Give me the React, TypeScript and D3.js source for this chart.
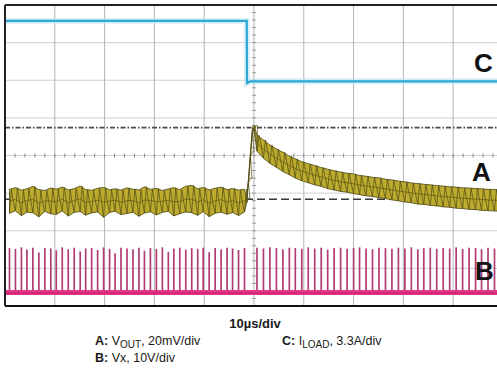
import React from "react";
import * as d3 from "d3";

const W = 497;
const H = 373;

// Screen geometry: 10 horizontal x 8 vertical divisions
const DIVS_X = 10;
const DIVS_Y = 8;
const TIME_PER_DIV = 10; // µs

// Switching events (µs); the period lengthens once the load is released
const switchTimes = [
  0.9, 2.1, 3.3, 4.4, 5.6, 6.8, 8.0, 9.2, 10.3, 11.5, 12.7, 13.9, 15.1, 16.2,
  17.4, 18.6, 19.8, 21.0, 22.1, 23.3, 24.5, 25.7, 26.9, 28.0, 29.2, 30.4, 31.6,
  32.8, 33.9, 35.1, 36.3, 37.5, 38.7, 39.8, 41.0, 42.2, 43.4, 44.6, 45.7, 46.9,
  48.1,
  50.6, 51.9, 53.2, 54.5, 55.8, 57.1, 58.3, 59.6, 60.9, 62.2, 63.5, 64.8, 66.1,
  67.4, 68.7, 70.0, 71.2, 72.5, 73.8, 75.1, 76.4, 77.7, 79.0, 80.3, 81.6, 82.9,
  84.1, 85.4, 86.7, 88.0, 89.3, 90.6, 91.9, 93.2, 94.5, 95.7, 97.0, 98.3, 99.6,
];

// Vx pulse tops (V) for each switching event
const vxPeaks = [
  11.8, 11.6, 12.0, 11.4, 11.9, 10.6, 11.8, 11.7, 11.2, 12.0, 11.5, 11.9, 10.9,
  11.7, 11.8, 11.3, 12.0, 11.6, 10.4, 11.9, 11.7, 11.5, 11.9, 11.1, 11.8, 11.6,
  12.0, 10.8, 11.7, 11.9, 11.4, 11.8, 11.6, 11.9, 10.7, 11.8, 11.5, 11.9, 11.7,
  11.3, 11.8,
  11.9, 11.7, 12.0, 11.8, 11.5, 11.9, 11.8, 11.6, 12.0, 11.7, 11.9, 11.4, 11.8,
  11.9, 11.6, 11.8, 12.0, 11.7, 11.5, 11.9, 11.8, 11.6, 11.9, 11.7, 12.0, 11.5,
  11.8, 11.9, 11.6, 11.8, 11.7, 12.0, 11.6, 11.9, 11.8, 11.5, 11.9, 11.7, 11.8,
];

// V_OUT ripple extremes per switching cycle (mV, relative to nominal)
const voutHigh = [
  5.2, 6.1, 4.8, 5.5, 6.8, 5.0, 4.6, 5.9, 5.3, 6.4, 4.9, 5.6, 7.0, 5.1, 4.7, 5.8,
  6.2, 5.0, 5.5, 4.8, 6.0, 5.3, 4.9, 6.6, 5.2, 5.7, 4.6, 5.4, 6.1, 5.0, 6.9, 7.3,
  5.5, 6.2, 4.9, 5.8, 6.4, 5.1, 5.6, 4.8, 5.3,
  34.0, 31.5, 28.8, 26.7, 24.9, 22.8, 21.4, 19.9, 18.8, 17.9, 16.8, 15.9, 15.1,
  14.4, 13.8, 13.4, 12.6, 12.2, 11.6, 11.3, 10.6, 10.2, 9.6, 9.2, 8.6, 8.3, 7.9,
  7.6, 7.2, 6.9, 6.6, 6.4, 6.0, 5.9, 5.6, 5.5, 5.2, 5.1, 5.0,
];
const voutLow = [
  -7.5, -6.2, -8.8, -6.9, -7.2, -9.4, -6.5, -7.8, -8.1, -6.3, -9.0, -7.0, -6.6,
  -8.5, -7.3, -6.8, -9.6, -7.1, -6.4, -8.2, -7.6, -6.9, -9.1, -7.4, -6.7, -8.4,
  -7.0, -6.5, -8.9, -7.7, -6.8, -7.2, -8.6, -6.6, -9.3, -7.5, -6.9, -8.0, -7.1,
  -8.7, -6.8,
  25.5, 21.8, 19.0, 16.9, 14.7, 13.0, 11.2, 9.8, 8.7, 7.6, 6.8, 5.6, 4.9, 4.1,
  3.7, 3.0, 2.4, 1.8, 1.4, 0.8, 0.3, -0.4, -0.9, -1.5, -1.9, -2.6, -2.8, -3.3,
  -3.6, -4.1, -4.3, -4.8, -5.0, -5.4, -5.6, -5.9, -6.1, -6.3, -6.4,
];

// V_OUT during the load-step edge (µs, mV)
const edgeTimes = [48.5, 48.9, 49.3, 49.7, 50.0];
const edgeValues = [-1, 10, 24, 37, 38];

// I_LOAD (µs, A)
const iloadTimes = [0, 48.55, 48.6, 48.8, 49.3, 100];
const iloadValues = [5.8, 5.8, 0.35, 0.4, 0.5, 0.5];

// Reference markers on channel A (mV)
const peakMarker = 38;
const nominalMarker = 0;

const channelTags = ["C", "A", "B"];

export default function App() {
  const left = 5;
  const top = 5;
  const bottom = 306;
  const divPx = (bottom - top) / DIVS_Y;
  const right = left + divPx * 1.3235 * DIVS_X; // ≈ 503, the screen runs past the crop

  const x = d3.scaleLinear().domain([0, DIVS_X * TIME_PER_DIV]).range([left, right]);
  // per-channel vertical scales: units/div and ground offset (divs from bottom)
  const chan = (perDiv: number, offsetDiv: number) =>
    d3.scaleLinear().domain([-offsetDiv * perDiv, (DIVS_Y - offsetDiv) * perDiv]).range([bottom, top]);
  const yA = chan(20, 2.84);
  const yB = chan(10, 0.359);
  const yC = chan(3.3, 5.82);

  const gridX = d3.range(1, DIVS_X).map((i) => x(i * TIME_PER_DIV));
  const gridY = d3.range(1, DIVS_Y).map((i) => top + i * divPx);
  const centerX = x(50);
  const centerY = top + 4 * divPx;
  const minorX = d3.range(0, DIVS_X * 5 + 1).map((i) => x(i * 2));
  const minorY = d3.range(0, DIVS_Y * 5 + 1).map((i) => top + (i * divPx) / 5);

  // V_OUT band: cycles + edge, sorted by time
  type P = { t: number; hi: number; lo: number };
  const pts: P[] = switchTimes.map((t, i) => ({ t, hi: voutHigh[i], lo: voutLow[i] }));
  edgeTimes.forEach((t, i) => pts.push({ t, hi: edgeValues[i] + 1.2, lo: edgeValues[i] - 1.2 }));
  pts.sort((a, b) => a.t - b.t);

  const band = d3
    .area<P>()
    .x((d) => x(d.t))
    .y0((d) => yA(d.lo))
    .y1((d) => yA(d.hi))(pts) as string;

  // trace within each cycle: sharp dip at the switching edge, then ramp back up
  const zig: [number, number][] = [];
  pts.forEach((d) => {
    const mid = (d.hi + d.lo) / 2;
    zig.push([x(d.t), yA(d.lo)]);
    zig.push([x(d.t + 0.2), yA(mid)]);
    zig.push([x(d.t + 0.4), yA(d.hi)]);
    zig.push([x(d.t + 0.7), yA(mid + 1)]);
  });
  const zigPath = d3.line()(zig) as string;
  const midPath = d3
    .line<P>()
    .x((d) => x(d.t))
    .y((d) => yA((d.hi + d.lo) / 2))(pts) as string;

  const iload = d3
    .line<number>()
    .x((_, i) => x(iloadTimes[i]))
    .y((v) => yC(v))(iloadValues) as string;

  const font = "Arial, 'Liberation Sans', Helvetica, sans-serif";

  return (
    <svg
      width={W}
      height={H}
      style={{ position: "absolute", left: 0, top: 0, display: "block", background: "#fff" }}
      fontFamily={font}
    >
      <rect width={W} height={H} fill="#fff" />
      <clipPath id="screen">
        <rect x={left} y={top} width={right - left} height={bottom - top} />
      </clipPath>

      {/* graticule */}
      <g>
        {gridY.map((y, i) => (
          <line key={"h" + i} x1={left} x2={right} y1={y} y2={y} stroke="#cfcfcf" strokeWidth={1} />
        ))}
        {gridX.map((gx, i) => (
          <line key={"v" + i} x1={gx} x2={gx} y1={top} y2={bottom} stroke="#b4b4b4" strokeWidth={1} />
        ))}
        {minorY.map((y, i) => (
          <line key={"ty" + i} x1={centerX - 2} x2={centerX + 2} y1={y} y2={y} stroke="#999" strokeWidth={1} />
        ))}
        {minorX.map((mx, i) => (
          <line key={"tx" + i} x1={mx} x2={mx} y1={centerY - 2} y2={centerY + 2} stroke="#888" strokeWidth={1} />
        ))}
      </g>

      {/* reference markers */}
      <line x1={left} x2={right} y1={yA(peakMarker)} y2={yA(peakMarker)} stroke="#484848" strokeWidth={1.7} strokeDasharray="5 2 1.5 2" />
      <line x1={left} x2={right} y1={yA(nominalMarker)} y2={yA(nominalMarker)} stroke="#3a3a3a" strokeWidth={1.5} strokeDasharray="8 4" />

      <g clipPath="url(#screen)">
        {/* B: Vx */}
        {switchTimes.map((t, i) => (
          <line key={"p" + i} x1={x(t)} x2={x(t)} y1={yB(0)} y2={yB(vxPeaks[i])} stroke="#b03c72" strokeWidth={1.7} />
        ))}
        <line x1={left} x2={right} y1={yB(0)} y2={yB(0)} stroke="#e4398a" strokeWidth={5} />
        <line x1={left} x2={right} y1={yB(0) + 0.5} y2={yB(0) + 0.5} stroke="#cc2276" strokeWidth={1.5} />

        {/* A: VOUT */}
        <path d={band} fill="#bcab2e" stroke="#59541a" strokeWidth={0.9} />
        <path d={zigPath} fill="none" stroke="#4f4a12" strokeWidth={0.7} />
        <path d={midPath} fill="none" stroke="#4f4a12" strokeWidth={1} opacity={0.6} />

        {/* C: ILOAD */}
        <path d={iload} fill="none" stroke="#bfe6f3" strokeWidth={6} opacity={0.6} />
        <path d={iload} fill="none" stroke="#2ba8d4" strokeWidth={2.2} />
      </g>

      {/* channel tags */}
      <g fontWeight="bold" fontSize={26} fill="#111">
        <text x={474} y={72}>{channelTags[0]}</text>
        <text x={472} y={181}>{channelTags[1]}</text>
        <text x={475} y={280}>{channelTags[2]}</text>
      </g>

      {/* screen border */}
      <line x1={left} x2={W} y1={top} y2={top} stroke="#222" strokeWidth={2} />
      <line x1={left} x2={left} y1={top} y2={bottom} stroke="#222" strokeWidth={2} />
      <line x1={left} x2={W} y1={bottom} y2={bottom} stroke="#111" strokeWidth={2} />

      {/* captions */}
      <g fill="#1a1a1a" fontSize={12.5}>
        <text x={255} y={328} textAnchor="middle" fontWeight="bold" fontSize={13}>
          10µs/div
        </text>
        <text x={95} y={345}>
          <tspan fontWeight="bold">A:</tspan> V
          <tspan dy={3} fontSize={10}>OUT</tspan>
          <tspan dy={-3}>, 20mV/div</tspan>
        </text>
        <text x={282} y={345}>
          <tspan fontWeight="bold">C:</tspan> I
          <tspan dy={3} fontSize={10}>LOAD</tspan>
          <tspan dy={-3}>, 3.3A/div</tspan>
        </text>
        <text x={95} y={362}>
          <tspan fontWeight="bold">B:</tspan> Vx, 10V/div
        </text>
      </g>
    </svg>
  );
}
